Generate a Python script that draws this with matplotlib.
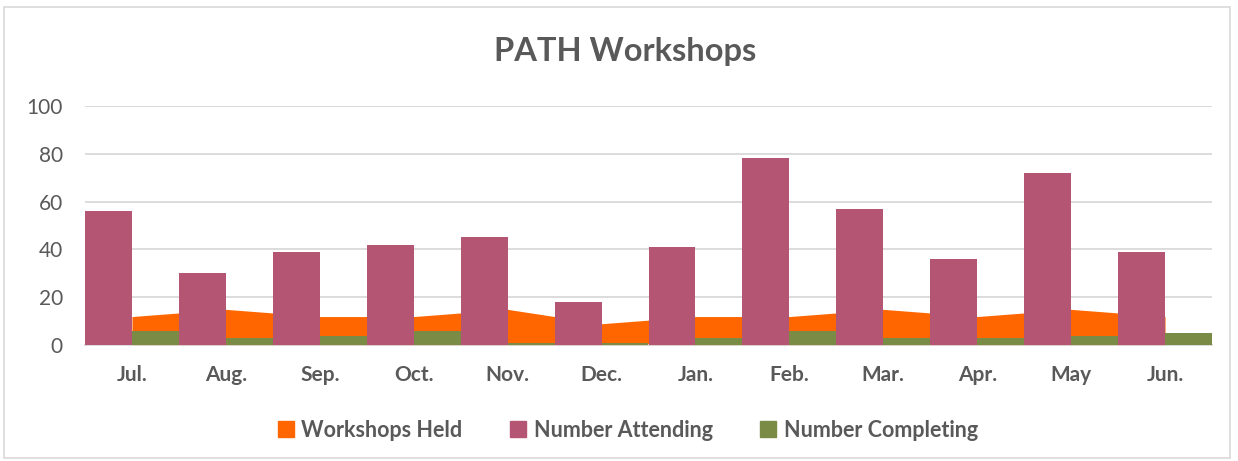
import matplotlib
matplotlib.use("Agg")
import matplotlib.pyplot as plt
from matplotlib.patches import Rectangle, Patch
import numpy as np

months = ["Jul.", "Aug.", "Sep.", "Oct.", "Nov.", "Dec.",
          "Jan.", "Feb.", "Mar.", "Apr.", "May", "Jun."]
workshops_held = [12, 15, 12, 12, 15, 9, 12, 12, 15, 12, 15, 12]
number_attending = [56, 30, 39, 42, 45, 18, 41, 78, 57, 36, 72, 39]
number_completing = [6, 3, 4, 6, 1, 1, 3, 6, 3, 3, 4, 5]

orange = "#FF6600"
maroon = "#B45574"
green = "#7A8B46"
text_col = "#595959"

plt.rcParams["font.family"] = ["Lato", "DejaVu Sans"]

fig = plt.figure(figsize=(12.38, 4.61), dpi=100)
ax = fig.add_axes([85 / 1238, 1 - 345.3 / 461, (1212 - 85) / 1238, (345.3 - 105.7) / 461])

x = np.arange(len(months))
# area behind the bars, points at the category centres
ax.fill_between(x, 0, workshops_held, color=orange, linewidth=0, zorder=2)
ax.bar(x - 0.25, number_attending, width=0.5, color=maroon, zorder=3)
ax.bar(x + 0.25, number_completing, width=0.5, color=green, zorder=3)

ax.set_xlim(-0.5, len(months) - 0.5)
ax.set_ylim(0, 100)
ax.set_yticks(range(0, 101, 20))
ax.yaxis.grid(True, color="#d9d9d9", linewidth=1.3, zorder=0)
ax.set_axisbelow(True)
for s in ["top", "right", "left"]:
    ax.spines[s].set_visible(False)
ax.spines["bottom"].set_color("#d9d9d9")
ax.spines["bottom"].set_linewidth(1.3)

ax.set_xticks(x)
ax.set_xticklabels(months, fontsize=15, fontweight="bold", color=text_col)
ax.tick_params(axis="x", length=0, pad=14)
ax.tick_params(axis="y", length=0, pad=16, labelsize=15, labelcolor=text_col)

fig.text(0.505, 1 - 51 / 461, "PATH Workshops", ha="center", va="center",
         fontsize=23.5, fontweight="bold", color=text_col)

handles = [Patch(color=orange, label="Workshops Held"),
           Patch(color=maroon, label="Number Attending"),
           Patch(color=green, label="Number Completing")]
fig.legend(handles=handles, loc="center", bbox_to_anchor=(0.507, 1 - 430 / 461),
           ncol=3, frameon=False, handlelength=0.75, handleheight=0.75,
           handletextpad=0.35, columnspacing=2.2,
           prop={"size": 15.5, "weight": "bold"}, labelcolor=text_col)

fig.patches.append(Rectangle((4 / 1238, 3 / 461), 1226 / 1238, 451 / 461,
                             transform=fig.transFigure, fill=False,
                             edgecolor="#d9d9d9", linewidth=1.2))

fig.savefig("out.png", dpi=100)
